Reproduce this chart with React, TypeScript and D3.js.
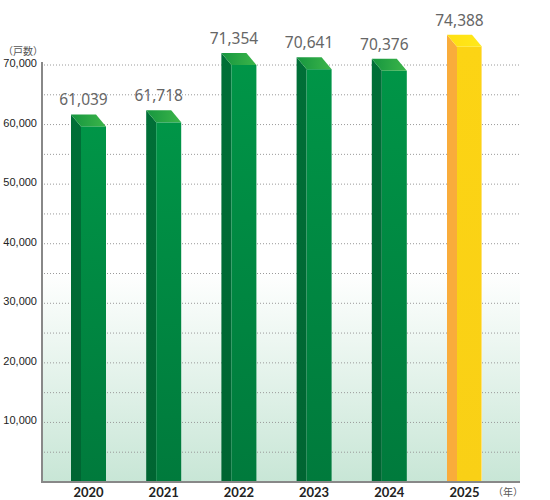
import * as d3 from 'd3'

const years = ['2020', '2021', '2022', '2023', '2024', '2025']
const households = [61039, 61718, 71354, 70641, 70376, 74388]
const highlightYear = '2025'
const yTicks = [10000, 20000, 30000, 40000, 50000, 60000, 70000]
const gridSteps = [5000, 10000, 15000, 20000, 25000, 30000, 35000, 40000, 45000, 50000, 55000, 60000, 65000, 70000]

const W = 550
const H = 500
const left = 42
const right = 520
const bottom = 482
const top = 65

const SIDE = 10
const FRONT = 25
const DEPTH = 12

export default function App() {
  const x = d3
    .scaleBand<string>()
    .domain(years)
    .range([71, 71 + years.length * 75.2])
    .paddingInner(0)
    .paddingOuter(0)

  const y = d3.scaleLinear().domain([0, 70000]).range([bottom, top])
  const fmt = d3.format(',')

  return (
    <svg width={W} height={H} style={{ position: 'absolute', left: 0, top: 0 }}>
      <defs>
        <linearGradient id="bg" x1="0" y1="0" x2="0" y2="1">
          <stop offset="0%" stopColor="#ffffff" />
          <stop offset="50%" stopColor="#ffffff" />
          <stop offset="100%" stopColor="#c8e6d6" />
        </linearGradient>
        <linearGradient id="gFront" x1="0" y1="0" x2="0" y2="1">
          <stop offset="0%" stopColor="#009547" />
          <stop offset="100%" stopColor="#007a3c" />
        </linearGradient>
        <linearGradient id="gSide" x1="0" y1="0" x2="0" y2="1">
          <stop offset="0%" stopColor="#006f37" />
          <stop offset="100%" stopColor="#006532" />
        </linearGradient>
        <linearGradient id="gTop" x1="0" y1="0" x2="1" y2="0">
          <stop offset="0%" stopColor="#16963f" />
          <stop offset="100%" stopColor="#3cb54a" />
        </linearGradient>
        <linearGradient id="yFront" x1="0" y1="0" x2="0" y2="1">
          <stop offset="0%" stopColor="#fcd414" />
          <stop offset="100%" stopColor="#f9d016" />
        </linearGradient>
        <linearGradient id="yTop" x1="0" y1="0" x2="1" y2="0">
          <stop offset="0%" stopColor="#ffdf12" />
          <stop offset="100%" stopColor="#ffe81a" />
        </linearGradient>
      </defs>

      {/* plot background */}
      <rect x={left} y={62} width={right - left} height={bottom - 62} fill="url(#bg)" />

      {/* dotted grid */}
      {gridSteps.map((v) => (
        <line
          key={v}
          x1={left + 2}
          x2={right}
          y1={y(v)}
          y2={y(v)}
          stroke="#9a9a9a"
          strokeWidth={1}
          strokeDasharray="1 2"
        />
      ))}

      {/* y tick labels */}
      {yTicks.map((v) => (
        <text
          key={v}
          x={37}
          y={y(v) + 2}
          textAnchor="end"
          fontFamily="'Liberation Sans', Arial, sans-serif"
          fontSize={11}
          fill="#222"
        >
          {fmt(v)}
        </text>
      ))}
      <text x={23} y={55} textAnchor="middle" fontFamily="'Noto Sans CJK JP', sans-serif" fontSize={10} fill="#555">
        （戸数）
      </text>

      {/* bars */}
      {years.map((yr, i) => {
        const x0 = x(yr) ?? 0
        const yb = y(households[i]) - 4
        const yf = yb + DEPTH
        const hi = yr === highlightYear
        const top = `M${x0},${yb} L${x0 + FRONT},${yb} L${x0 + FRONT + SIDE},${yf} L${x0 + SIDE},${yf} Z`
        const side = `M${x0},${yb} L${x0 + SIDE},${yf} L${x0 + SIDE},${bottom} L${x0},${bottom} Z`
        return (
          <g key={yr}>
            <path d={side} fill={hi ? '#f9ac3b' : 'url(#gSide)'} />
            <rect
              x={x0 + SIDE}
              y={yf}
              width={FRONT}
              height={bottom - yf}
              fill={hi ? 'url(#yFront)' : 'url(#gFront)'}
            />
            {hi && <line x1={x0 + SIDE + FRONT - 0.5} x2={x0 + SIDE + FRONT - 0.5} y1={yf} y2={bottom} stroke="#ffe27a" strokeWidth={1} />}
            <path d={top} fill={hi ? 'url(#yTop)' : 'url(#gTop)'} />
            <text
              x={x0 + FRONT / 2}
              y={yb - 9}
              textAnchor="middle"
              fontFamily="'Noto Sans', sans-serif"
              fontSize={15.5}
              fill="#666"
            >
              {fmt(households[i])}
            </text>
            <text
              x={x0 + (SIDE + FRONT) / 2}
              y={497}
              textAnchor="middle"
              fontFamily="Lato, sans-serif"
              fontWeight="bold"
              fontSize={13}
              fill="#222"
            >
              {yr}
            </text>
          </g>
        )
      })}

      {/* axes */}
      <line x1={left} x2={left} y1={62} y2={bottom + 1} stroke="#888" strokeWidth={2} />
      <line x1={left} x2={right} y1={bottom} y2={bottom} stroke="#888" strokeWidth={2} />

      <text x={508} y={496} textAnchor="middle" fontFamily="'Noto Sans CJK JP', sans-serif" fontSize={10} fill="#555">
        （年）
      </text>
    </svg>
  )
}
